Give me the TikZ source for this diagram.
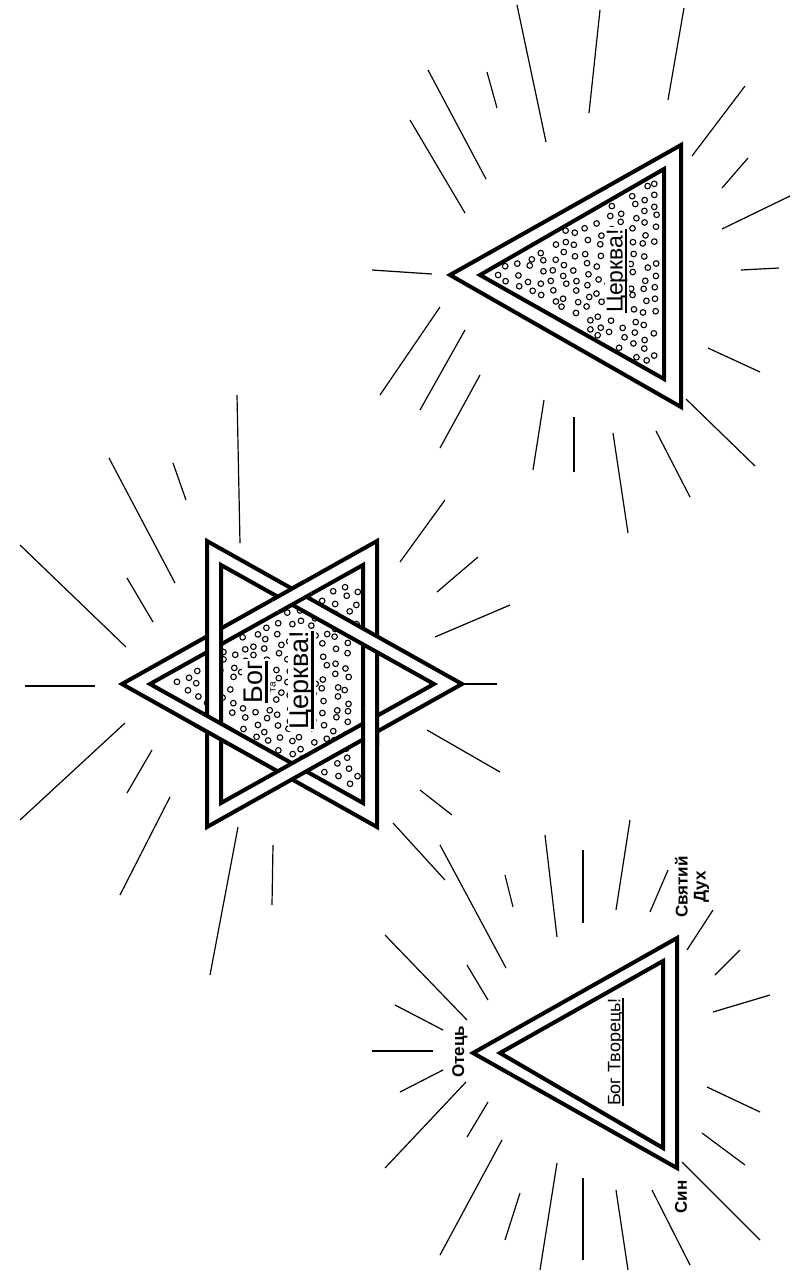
\documentclass[tikz,border=0pt]{standalone}
\usepackage{fontspec}
\setmainfont{Liberation Sans}
\usetikzlibrary{positioning}
\newcommand{\uln}[1]{\setbox0=\hbox{#1}\rlap{\vrule height -0.09em depth 0.19em width \wd0}\box0}

\begin{document}
\begin{tikzpicture}[x=0.5pt,y=-0.5pt]
  \tikzstyle{band}=[draw,line width=2pt,line join=miter]
  \tikzstyle{ray}=[line width=0.6pt]
  \tikzstyle{dot}=[line width=0.55pt]
  \tikzstyle{lbl}=[inner sep=1pt,rotate=90]
  \useasboundingbox (0,0) rectangle (797,1287);
  \pgfmathsetseed{11}

  % top triangle: Церква
  \coordinate (T1) at (450,275);
  \coordinate (T2) at (681,145);
  \coordinate (T3) at (681,407);
  \coordinate (t1) at (480,275);
  \coordinate (t2) at (664,169);
  \coordinate (t3) at (664,379);
  \foreach \i in {0,...,16}{
    \foreach \j in {0,...,19}{
      \pgfmathsetmacro{\px}{484+11.5*\i+3*rand}
      \pgfmathsetmacro{\py}{165+11.5*\j+5.75*mod(\i,2)+3*rand}
      \pgfmathtruncatemacro{\inside}{and(\px<657,abs(\py-274)<0.57*(\px-480)-5)}
      \ifnum\inside=1 \draw[dot] (\px,\py) circle (2.8); \fi
    }
  }
  \draw[band] (T1) -- (T2) -- (T3) -- cycle (t1) -- (t2) -- (t3) -- cycle;
  \node[lbl,fill=white] (church) at (617,271) {\fontsize{11.5}{12}\selectfont\uln{Церква!}};

  % star
  \coordinate (A1) at (122,684);
  \coordinate (A2) at (377,541);
  \coordinate (A3) at (377,827);
  \coordinate (a1) at (150,684);
  \coordinate (a2) at (363,565);
  \coordinate (a3) at (363,803);
  \coordinate (B1) at (462,684);
  \coordinate (B2) at (207,541);
  \coordinate (B3) at (207,827);
  \coordinate (b1) at (434,684);
  \coordinate (b2) at (221,565);
  \coordinate (b3) at (221,803);
  \foreach \i in {0,...,19}{
    \foreach \j in {0,...,22}{
      \pgfmathsetmacro{\px}{152+11.5*\i+3*rand}
      \pgfmathsetmacro{\py}{558+11.5*\j+5.75*mod(\i,2)+3*rand}
      \pgfmathtruncatemacro{\inside}{and(\px<358,abs(\py-684)<0.559*(\px-150)-5)}
      \ifnum\inside=1 \draw[dot] (\px,\py) circle (2.8); \fi
    }
  }
  \fill[white,even odd rule] (A1) -- (A2) -- (A3) -- cycle (a1) -- (a2) -- (a3) -- cycle;
  \draw[band] (A1) -- (A2) -- (A3) -- cycle (a1) -- (a2) -- (a3) -- cycle;
  \fill[white,even odd rule] (B1) -- (B2) -- (B3) -- cycle (b1) -- (b2) -- (b3) -- cycle;
  \draw[band] (B1) -- (B2) -- (B3) -- cycle (b1) -- (b2) -- (b3) -- cycle;
  % weave: A on top here
  \foreach \cx/\cy in {214/730,292/597,370/728}{
    \begin{scope}
      \clip (\cx,\cy) circle (20);
      \fill[white,even odd rule] (A1) -- (A2) -- (A3) -- cycle (a1) -- (a2) -- (a3) -- cycle;
      \draw[band] (A1) -- (A2) -- (A3) -- cycle (a1) -- (a2) -- (a3) -- cycle;
    \end{scope}
  }
  \node[lbl,fill=white] (god) at (256,682) {\fontsize{13.5}{14}\selectfont\uln{Бог}};
  \node[lbl] (and) at (273,687) {\fontsize{5}{6}\selectfont та};
  \node[lbl,fill=white] (church2) at (302,680) {\fontsize{13.5}{14}\selectfont\uln{Церква!}};

  % bottom triangle: Бог Творець
  \coordinate (U1) at (473,1053);
  \coordinate (U2) at (677,938);
  \coordinate (U3) at (677,1168);
  \coordinate (u1) at (500,1053);
  \coordinate (u2) at (663,961);
  \coordinate (u3) at (663,1148);
  \draw[band] (U1) -- (U2) -- (U3) -- cycle (u1) -- (u2) -- (u3) -- cycle;
  \node[lbl] (creator) at (616,1052) {\fontsize{9}{10}\selectfont\uln{Бог Творець!}};
  \node[lbl,font=\bfseries\fontsize{8.5}{9}\selectfont] (father) at (460,1052) {Отець};
  \node[lbl,font=\bfseries\fontsize{8.5}{9}\selectfont] (son) at (681,1197) {Син};
  \node[lbl,align=center,font=\bfseries\fontsize{8.5}{9}\selectfont] (spirit) at (692,887) {Святий\\Дух};

  % rays
  \foreach \xa/\ya/\xb/\yb in {517/5/546/142, 487/72/497/108, 600/10/589/113, 684/8/668/100,
      692/156/745/86, 748/158/722/188, 790/196/722/229, 779/268/741/270, 760/372/708/348,
      755/466/686/399, 690/497/656/431, 628/533/613/433, 574/472/574/417, 544/400/533/470,
      480/375/440/448, 465/330/420/410, 440/307/380/395, 372/270/432/274, 410/120/465/213,
      428/70/486/179}
    \draw[ray] (\xa,\ya) -- (\xb,\yb);
  \foreach \xa/\ya/\xb/\yb in {109/458/175/583, 173/463/186/500, 237/395/240/543,
      127/578/153/622, 20/545/126/647, 25/686/95/686, 20/820/125/723, 127/793/152/750,
      120/895/170/797, 210/975/238/827, 273/845/272/905, 393/823/445/880, 420/790/452/815,
      427/730/500/772, 465/684/497/684, 435/637/510/605, 437/592/478/557, 400/562/445/500}
    \draw[ray] (\xa,\ya) -- (\xb,\yb);
  \foreach \xa/\ya/\xb/\yb in {440/845/506/968, 467/965/488/1000, 385/935/467/1020,
      395/1005/443/1030, 372/1051/433/1051, 400/1092/443/1070, 385/1168/466/1082,
      467/1137/488/1102, 440/1255/502/1140, 505/1240/520/1193, 540/1270/557/1163,
      583/1260/583/1178, 628/1270/616/1190, 690/1265/652/1190, 760/1240/682/1162,
      745/1165/702/1133, 760/1112/707/1087, 770/995/713/1012, 740/950/715/975,
      713/910/687/950, 668/870/650/912, 630/820/616/910, 583/850/583/923,
      545/835/557/937, 505/875/513/907}
    \draw[ray] (\xa,\ya) -- (\xb,\yb);
\end{tikzpicture}
\end{document}
